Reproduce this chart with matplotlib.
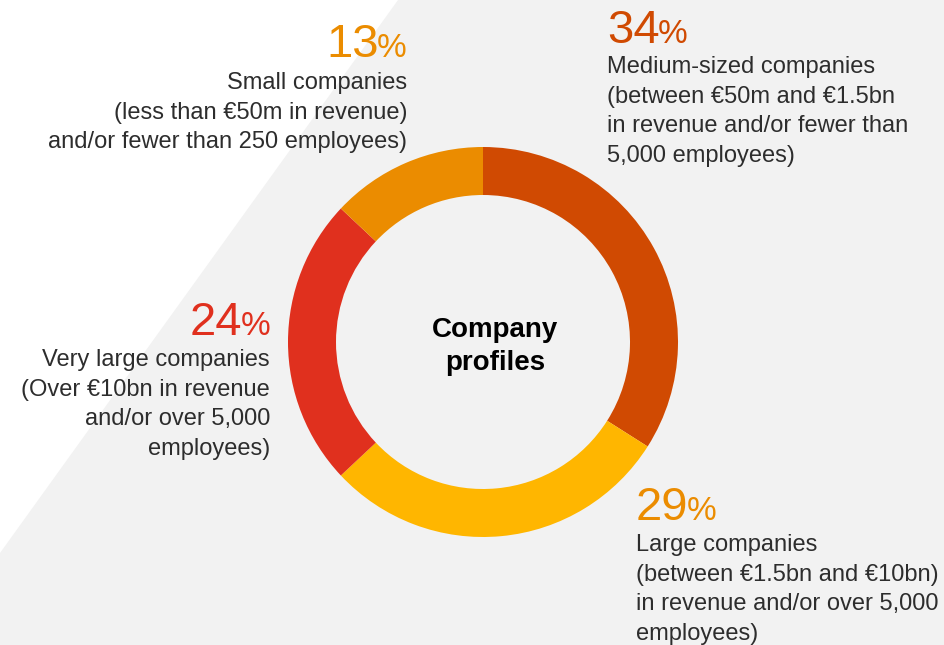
import matplotlib
matplotlib.use("Agg")
import matplotlib.pyplot as plt
from matplotlib.patches import Polygon

plt.rcParams['font.family'] = ['Liberation Sans', 'DejaVu Sans']

# data, clockwise from 12 o'clock
shares = [34, 29, 24, 13]
pct_labels = ["34", "29", "24", "13"]
descriptions = [
    "Medium-sized companies\n(between €50m and €1.5bn\nin revenue and/or fewer than\n5,000 employees)",
    "Large companies\n(between €1.5bn and €10bn)\nin revenue and/or over 5,000\nemployees)",
    "Very large companies\n(Over €10bn in revenue\nand/or over 5,000\nemployees)",
    "Small companies\n(less than €50m in revenue)\nand/or fewer than 250 employees)",
]
ring_colors = ["#D04A02", "#FFB600", "#E0301E", "#EB8C00"]
pct_colors = ["#D04A02", "#EB8C00", "#E0301E", "#EB8C00"]

W, H = 945, 645
LINE = 28.6  # pixel distance between text lines
# label anchors in pixels from top-left: x, number baseline, first text baseline, alignment
anchors = [
    (607, 43, 76, 'left'),
    (636, 520, 554, 'left'),
    (270, 335, 369, 'right'),
    (407, 57, 91, 'right'),
]

fig = plt.figure(figsize=(9.45, 6.45), dpi=100)
fig.patch.set_facecolor('white')
ax = fig.add_axes([0, 0, 1, 1])

# grey diagonal background band
band = Polygon([(398, H), (W, H), (W, 0), (0, 0), (0, H - 553)],
               closed=True, facecolor='#F2F2F2', edgecolor='none', zorder=0)
ax.add_patch(band)

ax.pie(shares, colors=ring_colors, startangle=90, counterclock=False,
       radius=195, center=(483, H - 342),
       wedgeprops=dict(width=48, linewidth=0))

ax.set_xlim(0, W)
ax.set_ylim(0, H)
ax.set_aspect('equal')
ax.axis('off')

# baseline of a multi-line text is the one of its last line
ax.text(495, H - 370, "Company\nprofiles", ha='center', va='baseline',
        fontsize=20, fontweight='bold', color='black', linespacing=1.33,
        multialignment='center')

fig.canvas.draw()
r = fig.canvas.get_renderer()

for (x, ny, ty, ha), num, desc, col in zip(anchors, pct_labels, descriptions, pct_colors):
    if ha == 'right':
        p = ax.text(x, H - ny, "%", ha='right', va='baseline', fontsize=24, color=col)
        w = p.get_window_extent(r).width
        ax.text(x - w + 2, H - ny, num, ha='right', va='baseline', fontsize=34, color=col)
    else:
        n = ax.text(x, H - ny, num, ha='left', va='baseline', fontsize=34, color=col)
        w = n.get_window_extent(r).width
        ax.text(x + w - 2, H - ny, "%", ha='left', va='baseline', fontsize=24, color=col)
    last = ty + (desc.count("\n")) * LINE
    ax.text(x, H - last, desc, ha=ha, va='baseline', fontsize=17, color='#2D2D2D',
            linespacing=1.44, multialignment=ha)

fig.savefig("out.png", dpi=100)
